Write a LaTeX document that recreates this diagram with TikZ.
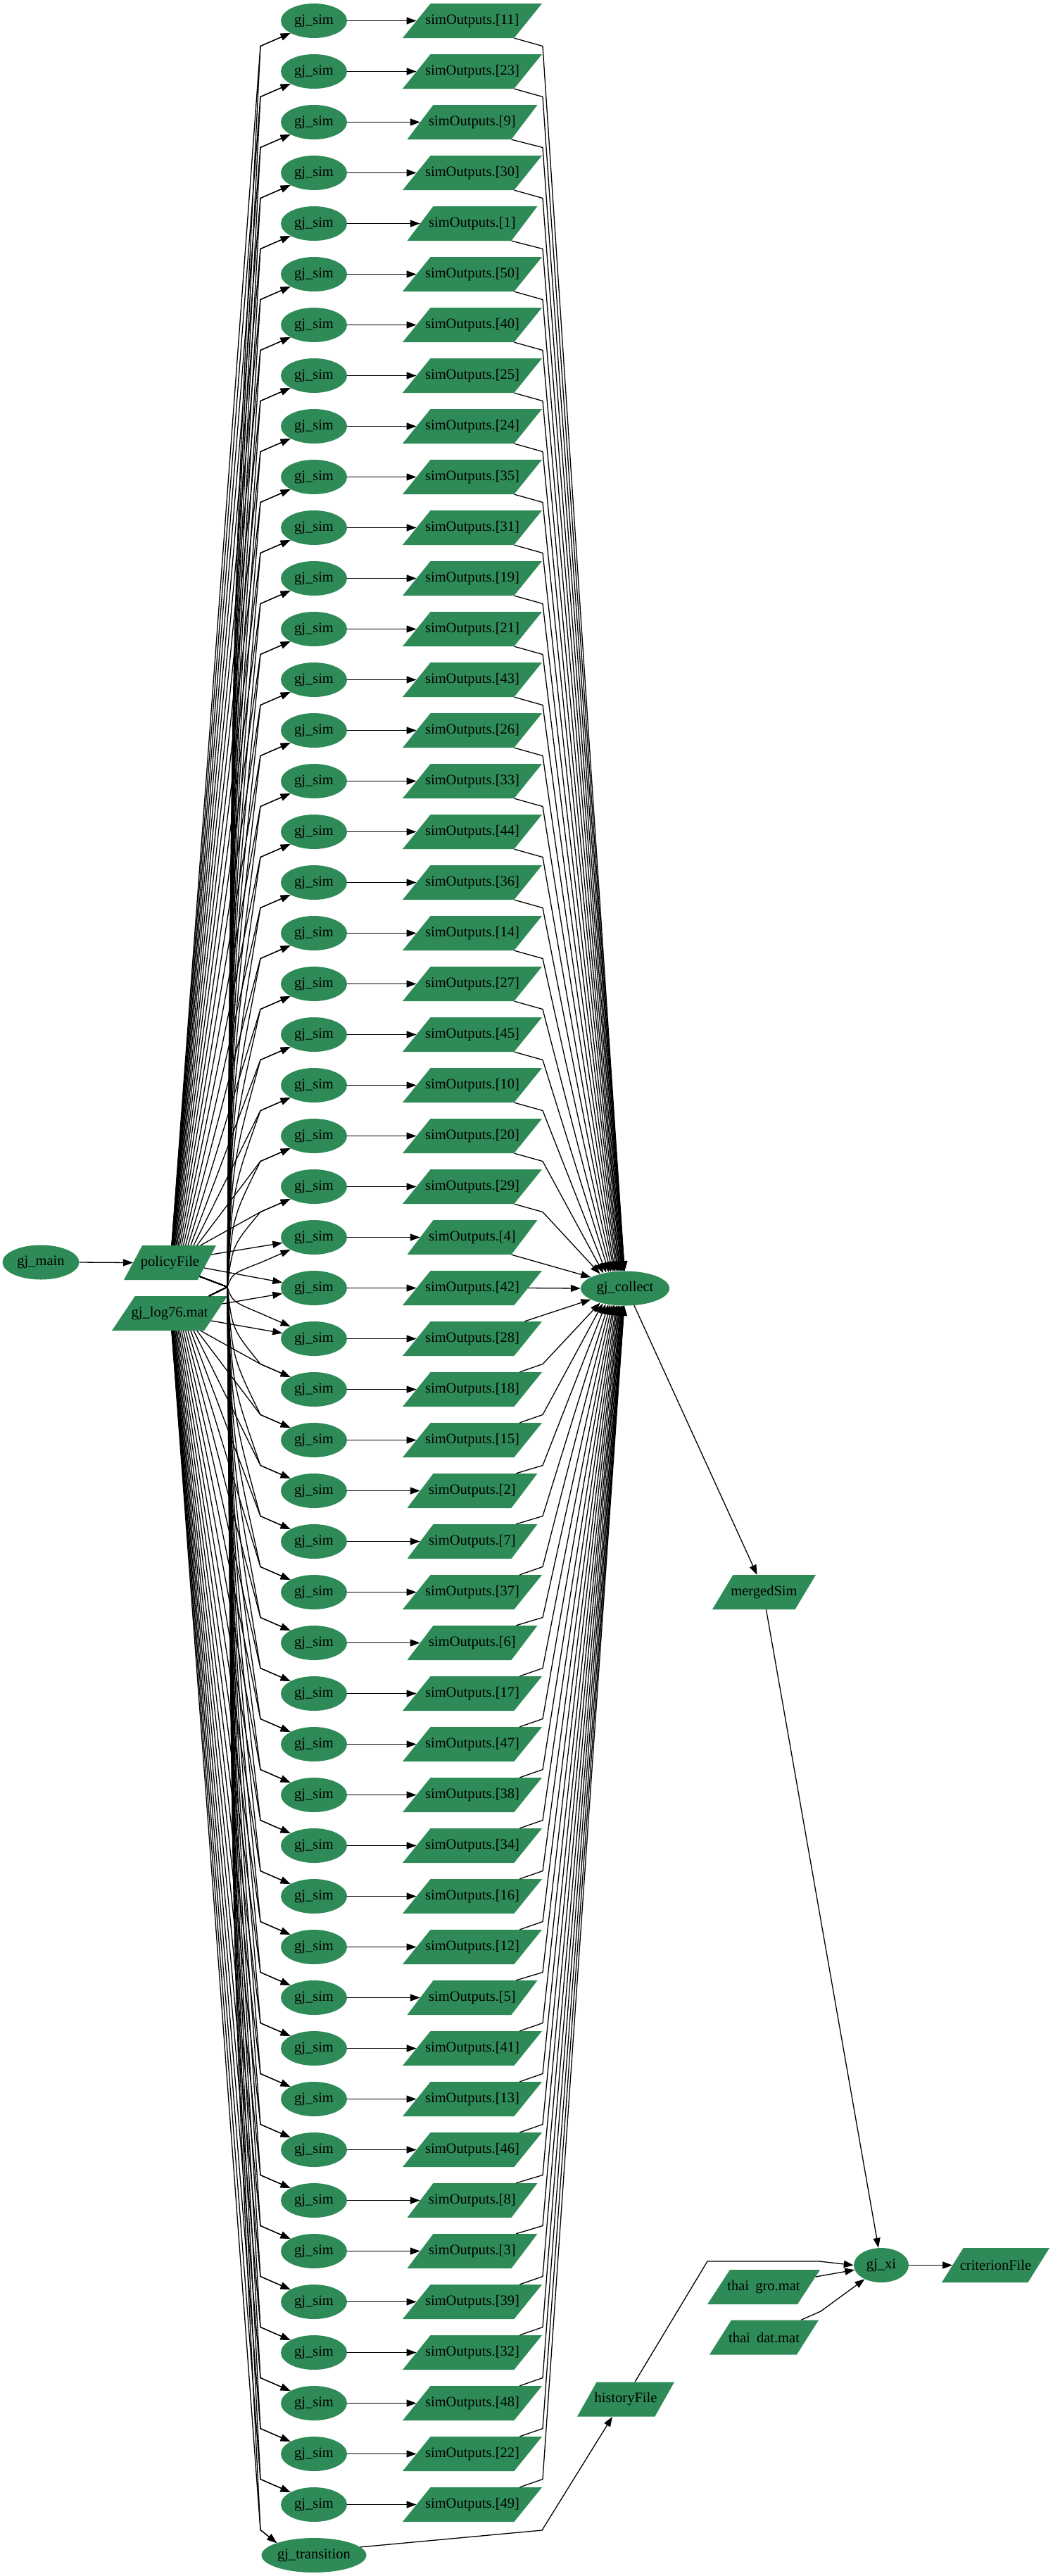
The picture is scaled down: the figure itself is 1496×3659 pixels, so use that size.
\documentclass[tikz,border=0pt]{standalone}
\usepackage{fontspec}
\setmainfont{Liberation Serif}
\usetikzlibrary{shapes.geometric,arrows.meta,calc}
\definecolor{nodegreen}{HTML}{2E8B57}
\newcommand\mypara[5]{%
  \pgfmathsetmacro\myps{0.2*#4}%
  \pgfmathsetmacro\mypw{#4-\myps}%
  \fill[nodegreen] ({#2-#4/2},{#3+24.5}) -- ({#2+#4/2-\myps},{#3+24.5}) -- ({#2+#4/2},{#3-24.5}) -- ({#2-#4/2+\myps},{#3-24.5}) -- cycle;
  \node[ptext, minimum width=\mypw pt] (#1) at (#2,#3) {#5};}
\begin{document}
\begin{tikzpicture}[x=1pt,y=-1pt,
  ell/.style={ellipse, fill=nodegreen, inner sep=0pt, minimum height=49pt, font=\fontsize{20.5}{24}\selectfont},
  ptext/.style={rectangle, inner sep=0pt, minimum height=49pt, font=\fontsize{20.5}{24}\selectfont},
  conn/.style={draw, line width=1.3pt, -{Triangle[length=14pt,width=10pt]}}]
\useasboundingbox (0,0) rectangle (1496,3659);
% fixed nodes
\node[ell,minimum width=109pt] (main) at (58,1793) {gj\_main};
\mypara{pf}{241.5}{1793.5}{131}{policyFile}
\mypara{gl}{241}{1865.5}{164}{gj\_log76.mat}
\node[ell,minimum width=126pt] (gjc) at (888,1830) {gj\_collect};
\mypara{ms}{1085.5}{2261.5}{147}{mergedSim}
\node[ell,minimum width=78pt] (xi) at (1252,3217.5) {gj\_xi};
\mypara{cf}{1414.5}{3217.5}{153}{criterionFile}
\mypara{tg}{1085}{3248.5}{160}{thai\hspace{0.45em}gro.mat}
\mypara{td}{1085.5}{3320}{155}{thai\hspace{0.45em}dat.mat}
\mypara{hf}{889}{3408}{138}{historyFile}
\node[ell,minimum width=149pt] (trans) at (446,3629.5) {gj\_transition};
\coordinate (cross) at (323,1828);
% simulation rows
\foreach \lab [count=\i from 0] in {11,23,9,30,1,50,40,25,24,35,31,19,21,43,26,33,44,36,14,27,45,10,20,29,4,42,28,18,15,2,7,37,6,17,47,38,34,16,12,5,41,13,46,8,3,39,32,48,22,49}{
  \pgfmathsetmacro\yy{29.5+72*\i}
  \node[ell, minimum width=94pt] (sim\i) at (446,\yy) {gj\_sim};
  \ifnum\lab<10 \def\ww{185}\else\def\ww{198}\fi
  \pgfmathsetmacro\hs{0.1*\ww}
  \mypara{out\i}{671}{\yy}{\ww}{simOutputs.[\lab]}
  \draw[conn] (sim\i.east) -- (out\i.west);
  \ifnum\i<24
    \pgfmathtruncatemacro\dd{25-\i}
    \pgfmathsetmacro\myt{(25-\dd)/23}
    \pgfmathtruncatemacro\ang{92+58*\myt*\myt}
    \draw[conn] ($(out\i.south east)+(-\hs,0)$) -- (771,{\yy+36}) -- (gjc.\ang);
  \else\ifnum\i=24
    \draw[conn] ($(out\i.south east)+(-\hs,0)$) -- (gjc.162);
  \else\ifnum\i=25
    \draw[conn] (out\i.east) -- (gjc.west);
  \else\ifnum\i=26
    \draw[conn] ($(out\i.north east)+(-5,0)$) -- (gjc.198);
  \else
    \pgfmathtruncatemacro\dd{\i-25}
    \pgfmathsetmacro\myt{(25-\dd)/23}
    \pgfmathtruncatemacro\angl{360-(92+58*\myt*\myt)}
    \draw[conn] ($(out\i.north east)+(-12,0)$) -- (771,{\yy-36}) -- (gjc.\angl);
  \fi\fi\fi\fi
}
% left edges, upper rows
\foreach \i in {0,...,24}{
  \pgfmathsetmacro\yy{29.5+72*\i}
  \pgfmathtruncatemacro\dd{25-\i}
  \pgfmathsetmacro\kk{\yy+36}
  \pgfmathsetmacro\cy{1828-0.55*(1828-\kk)}
  \draw[conn] ($(gl.north)+(56,0)$) -- (cross) .. controls (330,\cy) .. (370,\kk) -- (sim\i.south west);
  \ifnum\dd>1
    \pgfmathsetmacro\myt{(25-\dd)/23}
    \pgfmathsetmacro\xs{2.5+41*\myt*\myt*\myt}
    \draw[conn] ($(pf.north)+(\xs,0)$) -- (370,\kk) -- (sim\i.south west);
  \else
    \draw[conn] ($(pf.east)+(6,-11.5)$) -- (sim\i.190);
  \fi
}
% middle row
\draw[conn] ($(pf.east)+(-4,7.5)$) -- (sim25.170);
\draw[conn] ($(gl.east)+(9,-13.5)$) -- (sim25.190);
% left edges, lower rows
\foreach \i in {26,...,49}{
  \pgfmathsetmacro\yy{29.5+72*\i}
  \pgfmathtruncatemacro\dd{\i-25}
  \pgfmathsetmacro\kk{\yy-36}
  \pgfmathsetmacro\cy{1828+0.55*(\kk-1828)}
  \draw[conn] ($(pf.east)+(-10.5,19.5)$) -- (cross) .. controls (330,\cy) .. (370,\kk) -- (sim\i.north west);
  \ifnum\dd>1
    \pgfmathsetmacro\myt{(25-\dd)/23}
    \pgfmathsetmacro\xs{3+41*\myt*\myt*\myt}
    \draw[conn] ($(gl.south)+(\xs,0)$) -- (370,\kk) -- (sim\i.north west);
  \else
    \draw[conn] ($(gl.east)+(-7,10.5)$) -- (sim\i.170);
  \fi
}
% transition
\draw[conn] ($(pf.east)+(-10.5,19.5)$) -- (cross) .. controls (330,{1828+0.55*(3593.5-1828)}) .. (370,3593.5) -- (trans.north west);
\draw[conn] ($(gl.south)+(3,0)$) -- (370,3593.5) -- (trans.north west);
% other edges
\draw[conn] (main.east) -- (pf.west);
\draw[conn] (gjc.298) -- ($(ms.north)+(-10,0)$);
\draw[conn] ($(ms.south)+(3,0)$) -- ($(xi.north)+(-4,0)$);
\draw[conn] (trans.10) -- (770,3594) -- ($(hf.south)+(-19,0)$);
\draw[conn] ($(hf.north)+(13,0)$) -- (1005,3212) -- (1164,3212) -- (xi.west);
\draw[conn] ($(tg.east)+(9.5,-14.5)$) -- (xi.190);
\draw[conn] ($(td.north)+(52.5,0)$) -- (1166,3283) -- (xi.220);
\draw[conn] (xi.east) -- (cf.west);
\end{tikzpicture}
\end{document}
